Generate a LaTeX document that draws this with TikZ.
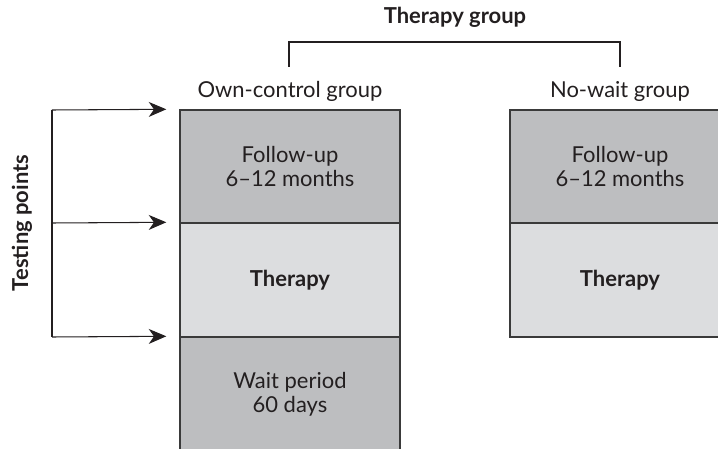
\documentclass[tikz,border=0pt]{standalone}
\usepackage{fontspec}
\setmainfont{Lato}
\usetikzlibrary{arrows.meta,positioning}
\definecolor{darkbox}{HTML}{BDBEC0}
\definecolor{lightbox}{HTML}{DCDDDF}
\definecolor{edge}{HTML}{3A3A3A}
\definecolor{ink}{HTML}{231F20}
\tikzstyle{phase}=[draw=edge,line width=0.8pt,minimum width=4.4cm,inner sep=0pt,align=center,text=ink,font=\fontsize{12.5}{13.5}\selectfont]
\tikzstyle{dark}=[phase,fill=darkbox]
\tikzstyle{light}=[phase,fill=lightbox]
\tikzstyle{caption}=[text=ink,font=\fontsize{12.5}{15}\selectfont]
\tikzstyle{point}=[draw=ink,line width=0.6pt]

\begin{document}
\begin{tikzpicture}[x=0.02cm,y=-0.02cm]
\clip (0,0) rectangle (718,449);

\node[caption,font=\fontsize{12.5}{15}\selectfont\bfseries] (title) at (455,17) {Therapy group};
\node[caption] (ownlabel) at (290,91) {Own-control group};
\node[caption] (nowlabel) at (620,91) {No-wait group};
\node[caption,font=\fontsize{12.5}{15}\selectfont\bfseries,rotate=90] (testing) at (22,223) {Testing points};

\node[dark,minimum height=2.26cm]  (ownfollow)  at (290,166.5) {Follow-up\\6--12 months};
\node[light,minimum height=2.28cm,font=\fontsize{12.5}{13.5}\selectfont\bfseries] (owntherapy) at (290,280) {Therapy};
\node[dark,minimum height=2.28cm]  (ownwait)    at (290,394) {Wait period\\60 days};

\node[dark,minimum height=2.26cm]  (nowfollow)  at (620,166.5) {Follow-up\\6--12 months};
\node[light,minimum height=2.28cm,font=\fontsize{12.5}{13.5}\selectfont\bfseries] (nowtherapy) at (620,280) {Therapy};

% bracket over the two groups
\coordinate (brl) at (289,67);
\coordinate (brr) at (620,67);
\draw[point] (brl) -- ++(0,-25) -| (brr);

% testing points
\coordinate (tp1) at (52,110);
\coordinate (tp2) at (52,223);
\coordinate (tp3) at (52,337);
\draw[point] (tp1) -- (tp3);
\tikzset{tip/.style={point,-{Stealth[length=10pt,width=8.5pt,inset=3pt]}}}
\draw[tip] (tp1) -- ([xshift=-0.26cm]ownfollow.north west);
\draw[tip] (tp2) -- ([xshift=-0.26cm]owntherapy.north west);
\draw[tip] (tp3) -- ([xshift=-0.26cm]ownwait.north west);

\end{tikzpicture}
\end{document}
